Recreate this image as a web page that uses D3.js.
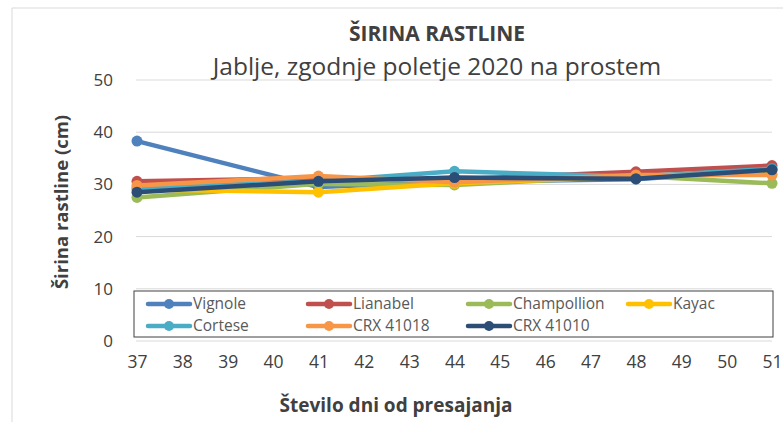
<!DOCTYPE html>
<html>
<head>
<meta charset="utf-8">
<script src="https://cdn.jsdelivr.net/npm/d3@7"></script>
<style>
  body { margin: 0; background: #fff; }
  text { font-family: "Open Sans", sans-serif; fill: #404040; }
</style>
</head>
<body>
<div id="chart"></div>
<script>
// data
var days = [37, 41, 44, 48, 51];
var xTicks = d3.range(37, 52);
var yTicks = [0, 10, 20, 30, 40, 50];
var seriesNames = ["Vignole", "Lianabel", "Champollion", "Kayac", "Cortese", "CRX 41018", "CRX 41010"];
var vignole = [38.3, 29.5, 30.5, 31.0, 32.8];
var lianabel = [30.6, 31.2, 31.0, 32.4, 33.6];
var champollion = [27.5, 30.1, 29.9, 31.6, 30.2];
var kayac = [29.0, 28.5, 30.2, 31.5, 32.0];
var cortese = [29.3, 30.6, 32.5, 31.5, 33.0];
var crx41018 = [29.8, 31.6, 30.4, 31.8, 31.8];
var crx41010 = [28.5, 30.6, 31.3, 31.1, 32.8];
var colors = ["#4f81bd", "#c0504d", "#9bbb59", "#ffc000", "#4bacc6", "#f79646", "#2c4d75"];

var allValues = [vignole, lianabel, champollion, kayac, cortese, crx41018, crx41010];
var series = seriesNames.map(function(n, i) {
  return { name: n, color: colors[i], values: days.map(function(d, j) { return { day: d, v: allValues[i][j] }; }) };
});

var W = 783, H = 422;
var svg = d3.select("#chart").append("svg")
    .attr("width", W)
    .attr("height", H);

// outer chart border
svg.append("path")
    .attr("d", "M12,430 L12,8 L800,8")
    .attr("fill", "none")
    .attr("stroke", "#d9d9d9")
    .attr("stroke-width", 1);

var x = d3.scaleLinear().domain([37, 51]).range([137, 772]);
var y = d3.scaleLinear().domain([0, 50]).range([341, 80]);

// gridlines
svg.append("g")
  .selectAll("line")
  .data(yTicks.slice(1))
  .join("line")
    .attr("x1", 136).attr("x2", 772)
    .attr("y1", function(d) { return y(d); })
    .attr("y2", function(d) { return y(d); })
    .attr("stroke", "#d9d9d9")
    .attr("stroke-width", 1);

// x axis line
svg.append("line")
    .attr("x1", 136).attr("x2", 772)
    .attr("y1", y(0)).attr("y2", y(0))
    .attr("stroke", "#d9d9d9");

// y axis labels
var yAxis = svg.append("g")
    .attr("transform", "translate(117,0)")
    .call(d3.axisLeft(y).tickValues(yTicks).tickSize(0).tickPadding(4));
yAxis.select(".domain").remove();
yAxis.selectAll("text").style("font-size", "17px").attr("fill", "#404040").style("font-family", "Open Sans, sans-serif");

// x axis labels
var xAxis = svg.append("g")
    .attr("transform", "translate(0," + (y(0) + 12) + ")")
    .call(d3.axisBottom(x).tickValues(xTicks).tickSize(0).tickFormat(d3.format("d")));
xAxis.select(".domain").remove();
xAxis.selectAll("text").style("font-size", "17.5px").attr("fill", "#404040").style("font-family", "Open Sans, sans-serif");

// lines
var line = d3.line()
    .x(function(d) { return x(d.day); })
    .y(function(d) { return y(d.v); });

var g = svg.append("g");
series.forEach(function(s) {
  g.append("path")
    .datum(s.values)
    .attr("d", line)
    .attr("fill", "none")
    .attr("stroke", s.color)
    .attr("stroke-width", 4.5)
    .attr("stroke-linejoin", "round")
    .attr("stroke-linecap", "round");
  g.selectAll(null)
    .data(s.values)
    .join("circle")
      .attr("cx", function(d) { return x(d.day); })
      .attr("cy", function(d) { return y(d.v); })
      .attr("r", 5.5)
      .attr("fill", s.color);
});

// legend
var legend = svg.append("g");
legend.append("rect")
    .attr("x", 134).attr("y", 291)
    .attr("width", 639).attr("height", 46)
    .attr("fill", "#fff")
    .attr("stroke", "#404040")
    .attr("stroke-width", 1);

var items = legend.selectAll("g.item")
  .data(series)
  .join("g")
    .attr("class", "item")
    .attr("transform", function(d, i) {
      return "translate(" + (148 + (i % 4) * 160) + "," + (304 + Math.floor(i / 4) * 22) + ")";
    });
items.append("line")
    .attr("x1", 0).attr("x2", 42)
    .attr("stroke", function(d) { return d.color; })
    .attr("stroke-width", 4.5)
    .attr("stroke-linecap", "round");
items.append("circle")
    .attr("cx", 21).attr("r", 5)
    .attr("fill", function(d) { return d.color; });
items.append("text")
    .attr("x", 45).attr("dy", "0.35em")
    .style("font-size", "15.5px")
    .style("fill", "#595959")
    .text(function(d) { return d.name; });

// titles
svg.append("text")
    .attr("x", 437).attr("y", 41)
    .attr("text-anchor", "middle")
    .style("font-size", "21px").style("font-weight", "bold")
    .text("ŠIRINA RASTLINE");
svg.append("text")
    .attr("x", 437).attr("y", 75)
    .attr("text-anchor", "middle")
    .style("font-size", "24.5px")
    .text("Jablje, zgodnje poletje 2020 na prostem");
svg.append("text")
    .attr("x", 396).attr("y", 412)
    .attr("text-anchor", "middle")
    .style("font-size", "19px").style("font-weight", "bold")
    .text("Število dni od presajanja");
svg.append("text")
    .attr("transform", "translate(68,202) rotate(-90)")
    .attr("text-anchor", "middle")
    .style("font-size", "18.5px").style("font-weight", "bold")
    .text("Širina rastline (cm)");
</script>
</body>
</html>
